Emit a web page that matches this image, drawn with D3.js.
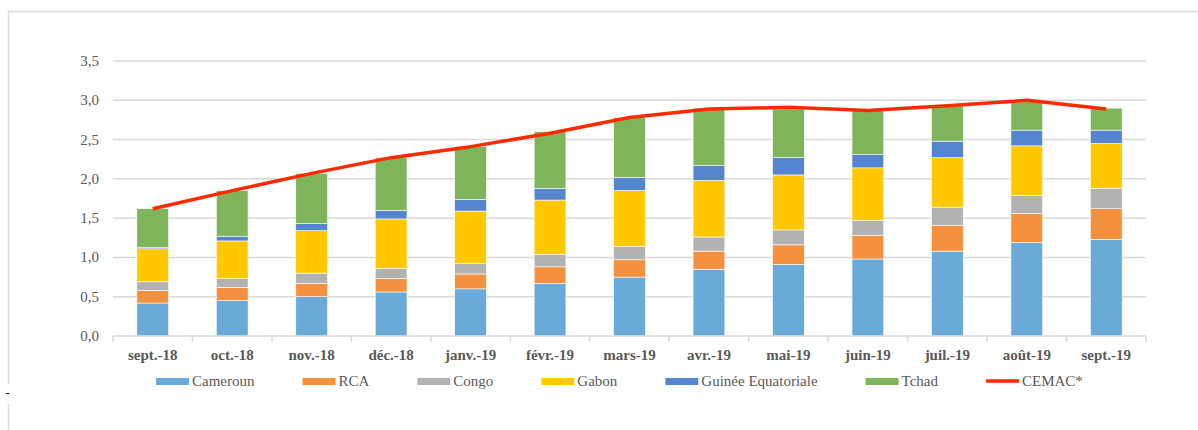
<!DOCTYPE html>
<html>
<head>
<meta charset="utf-8">
<script src="https://cdn.jsdelivr.net/npm/d3@7"></script>
<style>
  body { margin: 0; background: #fff; }
  svg { display: block; }
</style>
</head>
<body>
<div id="chart"></div>
<script>
// data
const months = ["sept.-18", "oct.-18", "nov.-18", "déc.-18", "janv.-19", "févr.-19", "mars-19",
                "avr.-19", "mai-19", "juin-19", "juil.-19", "août-19", "sept.-19"];
const cameroun = [0.42, 0.45, 0.50, 0.56, 0.60, 0.67, 0.75, 0.85, 0.91, 0.98, 1.08, 1.19, 1.23];
const rca      = [0.16, 0.17, 0.17, 0.17, 0.19, 0.21, 0.22, 0.23, 0.25, 0.30, 0.33, 0.37, 0.39];
const congo    = [0.11, 0.11, 0.13, 0.13, 0.13, 0.16, 0.17, 0.18, 0.19, 0.19, 0.23, 0.23, 0.26];
const gabon    = [0.42, 0.48, 0.54, 0.63, 0.67, 0.69, 0.71, 0.72, 0.70, 0.67, 0.63, 0.63, 0.57];
const guinee   = [0.02, 0.06, 0.09, 0.11, 0.15, 0.15, 0.17, 0.19, 0.22, 0.17, 0.21, 0.20, 0.17];
const tchad    = [0.49, 0.58, 0.64, 0.67, 0.67, 0.72, 0.76, 0.73, 0.62, 0.56, 0.45, 0.36, 0.28];
const cemac    = [1.62, 1.85, 2.07, 2.27, 2.41, 2.58, 2.78, 2.89, 2.91, 2.87, 2.93, 3.00, 2.89];
const yTicks   = [0, 0.5, 1, 1.5, 2, 2.5, 3, 3.5];

const seriesNames = ["Cameroun", "RCA", "Congo", "Gabon", "Guinée Equatoriale", "Tchad"];
const seriesVals = [cameroun, rca, congo, gabon, guinee, tchad];
const colors = ["#6AAAD9", "#F3913F", "#B2B2B2", "#FFC800", "#5585CF", "#7FB55A"];
const lineName = "CEMAC*";
const lineColor = "#FF2A00";
const FONT = "'Liberation Serif'";

const W = 1198, H = 430;
const svg = d3.select("#chart").append("svg").attr("width", W).attr("height", H);
svg.append("rect").attr("width", W).attr("height", H).attr("fill", "#fff");

// frame bits
svg.append("line").attr("x1", 8).attr("x2", W).attr("y1", 11.5).attr("y2", 11.5)
  .attr("stroke", "#D9D9D9").attr("stroke-width", 1.5);
svg.append("line").attr("x1", 8.5).attr("x2", 8.5).attr("y1", 11).attr("y2", 384)
  .attr("stroke", "#D9D9D9").attr("stroke-width", 1.5);
svg.append("line").attr("x1", 8.5).attr("x2", 8.5).attr("y1", 404).attr("y2", H)
  .attr("stroke", "#D9D9D9").attr("stroke-width", 1.5);
svg.append("text").attr("x", 5).attr("y", 397).style("font-family", FONT)
  .attr("font-size", 15).attr("fill", "#333").text("-");

const x = d3.scaleBand().domain(months).range([113, 1146]).paddingInner(0.6).paddingOuter(0.3);
const y = d3.scaleLinear().domain([0, 3.5]).range([336, 61]);

// gridlines
svg.append("g").selectAll("line").data(yTicks.slice(1)).enter().append("line")
  .attr("x1", 113).attr("x2", 1146)
  .attr("y1", d => y(d)).attr("y2", d => y(d))
  .attr("stroke", "#D9D9D9").attr("stroke-width", 1.5);

// y labels
svg.append("g").selectAll("text").data(yTicks).enter().append("text")
  .attr("x", 99).attr("y", d => y(d) + 5)
  .style("font-family", FONT)
  .attr("text-anchor", "end").attr("font-size", 15).attr("fill", "#595959")
  .text(d => d3.format(".1f")(d).replace(".", ","));

// stacked bars
const table = months.map((m, i) => {
  const row = { month: m };
  seriesNames.forEach((s, j) => row[s] = seriesVals[j][i]);
  return row;
});
const stacked = d3.stack().keys(seriesNames)(table);

svg.append("g").selectAll("g").data(stacked).enter().append("g")
  .attr("fill", (d, i) => colors[i])
  .selectAll("rect").data(d => d).enter().append("rect")
  .attr("x", d => x(d.data.month))
  .attr("width", x.bandwidth())
  .attr("y", d => y(d[1]))
  .attr("height", d => y(d[0]) - y(d[1]))
  .attr("stroke", "#fff").attr("stroke-width", 0.6);

// x axis line + ticks at category boundaries
const step = x.step();
const gap = (step - x.bandwidth()) / 2;
const bounds = months.map(m => x(m) - gap).concat([x(months[months.length - 1]) + x.bandwidth() + gap]);
svg.append("line").attr("x1", 113).attr("x2", 1146).attr("y1", y(0)).attr("y2", y(0))
  .attr("stroke", "#D9D9D9").attr("stroke-width", 1.5);
svg.append("g").selectAll("line").data(bounds).enter().append("line")
  .attr("x1", d => d).attr("x2", d => d)
  .attr("y1", y(0)).attr("y2", y(0) + 6)
  .attr("stroke", "#D9D9D9").attr("stroke-width", 1.5);

svg.append("g").selectAll("text").data(months).enter().append("text")
  .attr("x", d => x(d) + x.bandwidth() / 2).attr("y", 360)
  .style("font-family", FONT)
  .attr("text-anchor", "middle").attr("font-size", 15).attr("font-weight", "bold")
  .attr("fill", "#595959").text(d => d);

// CEMAC line
const line = d3.line().x((d, i) => x(months[i]) + x.bandwidth() / 2).y(d => y(d));
svg.append("path").datum(cemac).attr("d", line)
  .attr("fill", "none").attr("stroke", lineColor).attr("stroke-width", 3.5)
  .attr("stroke-linejoin", "round");

// legend
const legend = svg.append("g");
const items = seriesNames.map((s, i) => ({ name: s, color: colors[i], line: false }))
  .concat([{ name: lineName, color: lineColor, line: true }]);
let lx = 156;
items.forEach(it => {
  if (it.line) {
    legend.append("line").attr("x1", lx).attr("x2", lx + 33).attr("y1", 381).attr("y2", 381)
      .attr("stroke", it.color).attr("stroke-width", 3.5);
  } else {
    legend.append("rect").attr("x", lx).attr("y", 378).attr("width", 33).attr("height", 7)
      .attr("fill", it.color);
  }
  const t = legend.append("text").attr("x", lx + 36).attr("y", 386)
    .style("font-family", FONT)
    .attr("font-size", 15).attr("fill", "#595959").text(it.name);
  lx += 36 + t.node().getComputedTextLength() + 48;
});
</script>
</body>
</html>
